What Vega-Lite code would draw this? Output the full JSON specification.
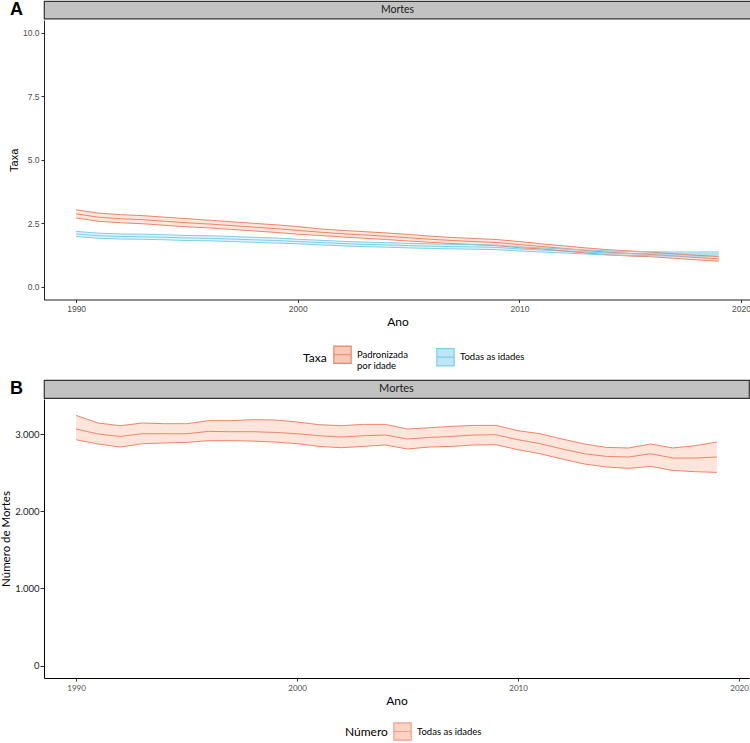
{
  "$schema": "https://vega.github.io/schema/vega-lite/v6.json",
  "padding": {"left": 0, "top": 0, "right": 1, "bottom": 0},
  "background": "white",
  "spacing": 8,
  "resolve": {"scale": {"fill": "independent", "stroke": "independent"}, "legend": {"fill": "independent", "stroke": "independent"}},
  "config": {
    "view": {"stroke": null},
    "axis": {"grid": false, "domainColor": "#222222", "domainWidth": 1, "tickColor": "#333333", "tickSize": 3, "labelColor": "#4D4D4D", "titleColor": "#000000", "titleFontWeight": "normal"}
  },
  "datasets": {
    "strip": [{"label": "Mortes"}],
    "taxa": [
      {"ano": 1990, "serie": "Padronizada por idade", "val": 2.87, "lo": 2.71, "hi": 3.03},
      {"ano": 1991, "serie": "Padronizada por idade", "val": 2.74, "lo": 2.58, "hi": 2.90},
      {"ano": 1992, "serie": "Padronizada por idade", "val": 2.68, "lo": 2.52, "hi": 2.84},
      {"ano": 1993, "serie": "Padronizada por idade", "val": 2.64, "lo": 2.48, "hi": 2.80},
      {"ano": 1994, "serie": "Padronizada por idade", "val": 2.58, "lo": 2.42, "hi": 2.74},
      {"ano": 1995, "serie": "Padronizada por idade", "val": 2.52, "lo": 2.36, "hi": 2.68},
      {"ano": 1996, "serie": "Padronizada por idade", "val": 2.47, "lo": 2.32, "hi": 2.62},
      {"ano": 1997, "serie": "Padronizada por idade", "val": 2.41, "lo": 2.26, "hi": 2.56},
      {"ano": 1998, "serie": "Padronizada por idade", "val": 2.35, "lo": 2.20, "hi": 2.50},
      {"ano": 1999, "serie": "Padronizada por idade", "val": 2.29, "lo": 2.14, "hi": 2.44},
      {"ano": 2000, "serie": "Padronizada por idade", "val": 2.22, "lo": 2.07, "hi": 2.37},
      {"ano": 2001, "serie": "Padronizada por idade", "val": 2.15, "lo": 2.02, "hi": 2.28},
      {"ano": 2002, "serie": "Padronizada por idade", "val": 2.09, "lo": 1.96, "hi": 2.22},
      {"ano": 2003, "serie": "Padronizada por idade", "val": 2.04, "lo": 1.91, "hi": 2.17},
      {"ano": 2004, "serie": "Padronizada por idade", "val": 1.99, "lo": 1.86, "hi": 2.12},
      {"ano": 2005, "serie": "Padronizada por idade", "val": 1.93, "lo": 1.80, "hi": 2.06},
      {"ano": 2006, "serie": "Padronizada por idade", "val": 1.87, "lo": 1.75, "hi": 1.99},
      {"ano": 2007, "serie": "Padronizada por idade", "val": 1.82, "lo": 1.70, "hi": 1.94},
      {"ano": 2008, "serie": "Padronizada por idade", "val": 1.78, "lo": 1.66, "hi": 1.90},
      {"ano": 2009, "serie": "Padronizada por idade", "val": 1.74, "lo": 1.62, "hi": 1.86},
      {"ano": 2010, "serie": "Padronizada por idade", "val": 1.66, "lo": 1.54, "hi": 1.78},
      {"ano": 2011, "serie": "Padronizada por idade", "val": 1.59, "lo": 1.49, "hi": 1.69},
      {"ano": 2012, "serie": "Padronizada por idade", "val": 1.51, "lo": 1.41, "hi": 1.61},
      {"ano": 2013, "serie": "Padronizada por idade", "val": 1.43, "lo": 1.33, "hi": 1.53},
      {"ano": 2014, "serie": "Padronizada por idade", "val": 1.36, "lo": 1.26, "hi": 1.46},
      {"ano": 2015, "serie": "Padronizada por idade", "val": 1.31, "lo": 1.21, "hi": 1.41},
      {"ano": 2016, "serie": "Padronizada por idade", "val": 1.27, "lo": 1.18, "hi": 1.36},
      {"ano": 2017, "serie": "Padronizada por idade", "val": 1.21, "lo": 1.12, "hi": 1.30},
      {"ano": 2018, "serie": "Padronizada por idade", "val": 1.15, "lo": 1.06, "hi": 1.24},
      {"ano": 2019, "serie": "Padronizada por idade", "val": 1.10, "lo": 1.01, "hi": 1.19},
      {"ano": 1990, "serie": "Todas as idades", "val": 2.08, "lo": 1.98, "hi": 2.18},
      {"ano": 1991, "serie": "Todas as idades", "val": 2.01, "lo": 1.91, "hi": 2.11},
      {"ano": 1992, "serie": "Todas as idades", "val": 1.98, "lo": 1.88, "hi": 2.08},
      {"ano": 1993, "serie": "Todas as idades", "val": 1.97, "lo": 1.87, "hi": 2.07},
      {"ano": 1994, "serie": "Todas as idades", "val": 1.95, "lo": 1.85, "hi": 2.05},
      {"ano": 1995, "serie": "Todas as idades", "val": 1.92, "lo": 1.82, "hi": 2.02},
      {"ano": 1996, "serie": "Todas as idades", "val": 1.91, "lo": 1.81, "hi": 2.01},
      {"ano": 1997, "serie": "Todas as idades", "val": 1.88, "lo": 1.78, "hi": 1.98},
      {"ano": 1998, "serie": "Todas as idades", "val": 1.85, "lo": 1.75, "hi": 1.95},
      {"ano": 1999, "serie": "Todas as idades", "val": 1.82, "lo": 1.72, "hi": 1.92},
      {"ano": 2000, "serie": "Todas as idades", "val": 1.78, "lo": 1.69, "hi": 1.87},
      {"ano": 2001, "serie": "Todas as idades", "val": 1.74, "lo": 1.65, "hi": 1.83},
      {"ano": 2002, "serie": "Todas as idades", "val": 1.70, "lo": 1.61, "hi": 1.79},
      {"ano": 2003, "serie": "Todas as idades", "val": 1.67, "lo": 1.58, "hi": 1.76},
      {"ano": 2004, "serie": "Todas as idades", "val": 1.65, "lo": 1.56, "hi": 1.74},
      {"ano": 2005, "serie": "Todas as idades", "val": 1.62, "lo": 1.53, "hi": 1.71},
      {"ano": 2006, "serie": "Todas as idades", "val": 1.60, "lo": 1.51, "hi": 1.69},
      {"ano": 2007, "serie": "Todas as idades", "val": 1.58, "lo": 1.49, "hi": 1.67},
      {"ano": 2008, "serie": "Todas as idades", "val": 1.57, "lo": 1.48, "hi": 1.66},
      {"ano": 2009, "serie": "Todas as idades", "val": 1.55, "lo": 1.46, "hi": 1.64},
      {"ano": 2010, "serie": "Todas as idades", "val": 1.49, "lo": 1.41, "hi": 1.57},
      {"ano": 2011, "serie": "Todas as idades", "val": 1.45, "lo": 1.37, "hi": 1.53},
      {"ano": 2012, "serie": "Todas as idades", "val": 1.41, "lo": 1.33, "hi": 1.49},
      {"ano": 2013, "serie": "Todas as idades", "val": 1.37, "lo": 1.29, "hi": 1.45},
      {"ano": 2014, "serie": "Todas as idades", "val": 1.33, "lo": 1.25, "hi": 1.41},
      {"ano": 2015, "serie": "Todas as idades", "val": 1.31, "lo": 1.23, "hi": 1.39},
      {"ano": 2016, "serie": "Todas as idades", "val": 1.30, "lo": 1.22, "hi": 1.38},
      {"ano": 2017, "serie": "Todas as idades", "val": 1.29, "lo": 1.21, "hi": 1.37},
      {"ano": 2018, "serie": "Todas as idades", "val": 1.29, "lo": 1.21, "hi": 1.37},
      {"ano": 2019, "serie": "Todas as idades", "val": 1.29, "lo": 1.21, "hi": 1.37}
    ],
    "numero": [
      {"ano": 1990, "serie": "Todas as idades", "val": 3066, "lo": 2927, "hi": 3243},
      {"ano": 1991, "serie": "Todas as idades", "val": 3001, "lo": 2872, "hi": 3144},
      {"ano": 1992, "serie": "Todas as idades", "val": 2970, "lo": 2833, "hi": 3109},
      {"ano": 1993, "serie": "Todas as idades", "val": 3005, "lo": 2876, "hi": 3144},
      {"ano": 1994, "serie": "Todas as idades", "val": 3005, "lo": 2885, "hi": 3135},
      {"ano": 1995, "serie": "Todas as idades", "val": 3005, "lo": 2893, "hi": 3135},
      {"ano": 1996, "serie": "Todas as idades", "val": 3035, "lo": 2915, "hi": 3174},
      {"ano": 1997, "serie": "Todas as idades", "val": 3031, "lo": 2915, "hi": 3174},
      {"ano": 1998, "serie": "Todas as idades", "val": 3031, "lo": 2910, "hi": 3187},
      {"ano": 1999, "serie": "Todas as idades", "val": 3022, "lo": 2897, "hi": 3183},
      {"ano": 2000, "serie": "Todas as idades", "val": 3005, "lo": 2876, "hi": 3157},
      {"ano": 2001, "serie": "Todas as idades", "val": 2979, "lo": 2841, "hi": 3122},
      {"ano": 2002, "serie": "Todas as idades", "val": 2962, "lo": 2824, "hi": 3109},
      {"ano": 2003, "serie": "Todas as idades", "val": 2979, "lo": 2841, "hi": 3126},
      {"ano": 2004, "serie": "Todas as idades", "val": 2988, "lo": 2859, "hi": 3126},
      {"ano": 2005, "serie": "Todas as idades", "val": 2936, "lo": 2807, "hi": 3066},
      {"ano": 2006, "serie": "Todas as idades", "val": 2957, "lo": 2833, "hi": 3083},
      {"ano": 2007, "serie": "Todas as idades", "val": 2970, "lo": 2841, "hi": 3100},
      {"ano": 2008, "serie": "Todas as idades", "val": 2988, "lo": 2859, "hi": 3113},
      {"ano": 2009, "serie": "Todas as idades", "val": 2992, "lo": 2863, "hi": 3113},
      {"ano": 2010, "serie": "Todas as idades", "val": 2927, "lo": 2798, "hi": 3044},
      {"ano": 2011, "serie": "Todas as idades", "val": 2876, "lo": 2746, "hi": 3005},
      {"ano": 2012, "serie": "Todas as idades", "val": 2807, "lo": 2677, "hi": 2936},
      {"ano": 2013, "serie": "Todas as idades", "val": 2746, "lo": 2613, "hi": 2872},
      {"ano": 2014, "serie": "Todas as idades", "val": 2711, "lo": 2574, "hi": 2828},
      {"ano": 2015, "serie": "Todas as idades", "val": 2703, "lo": 2556, "hi": 2820},
      {"ano": 2016, "serie": "Todas as idades", "val": 2746, "lo": 2582, "hi": 2872},
      {"ano": 2017, "serie": "Todas as idades", "val": 2690, "lo": 2530, "hi": 2820},
      {"ano": 2018, "serie": "Todas as idades", "val": 2690, "lo": 2513, "hi": 2850},
      {"ano": 2019, "serie": "Todas as idades", "val": 2703, "lo": 2504, "hi": 2897}
    ]
  },
  "vconcat": [
    {
      "spacing": 0,
      "vconcat": [
        {
          "width": 707,
          "height": 17.5,
          "data": {"name": "strip"},
          "view": {"fill": "#C2C2C2", "stroke": "#333333", "strokeWidth": 1.2},
          "title": {"text": "A", "orient": "left", "angle": 0, "anchor": "middle", "align": "right", "baseline": "middle", "offset": 8, "font": "Liberation Sans", "fontSize": 18, "fontWeight": "bold", "color": "#000000"},
          "mark": {"type": "text", "font": "Lato", "fontSize": 10.5, "color": "#1A1A1A", "baseline": "middle", "align": "center"},
          "encoding": {"text": {"field": "label", "type": "nominal"}}
        },
        {
          "width": 707,
          "height": 279.5,
          "data": {"name": "taxa"},
          "encoding": {
            "x": {"field": "ano", "type": "quantitative", "scale": {"domain": [1988.55, 2020.45], "nice": false, "zero": false},
              "axis": {"values": [1990, 2000, 2010, 2020], "format": "d", "title": "Ano", "labelFont": "Liberation Sans", "labelFontSize": 8.5, "labelPadding": 2, "titleFont": "Lato", "titleFontSize": 12, "titlePadding": 3}}
          },
          "layer": [
            {
              "mark": {"type": "area", "fillOpacity": 0.45},
              "encoding": {
                "y": {"field": "lo", "type": "quantitative", "scale": {"domain": [-0.5, 10.5], "nice": false, "zero": false},
                  "axis": {"values": [0, 2.5, 5, 7.5, 10], "format": ".1f", "title": "Taxa", "labelFont": "Liberation Sans", "labelFontSize": 8.5, "labelPadding": 2, "titleFont": "Liberation Sans", "titleFontSize": 11, "titlePadding": 3}},
                "y2": {"field": "hi"},
                "fill": {"field": "serie", "type": "nominal",
                  "scale": {"domain": ["Padronizada por idade", "Todas as idades"], "range": ["#F9C9B8", "#BFE6F5"]},
                  "legend": {"title": "Taxa", "orient": "none", "legendX": 259, "legendY": 344, "direction": "horizontal", "titleOrient": "left",
                    "titleFont": "Lato", "titleFontSize": 12, "titleFontWeight": "normal", "titleColor": "#000000", "titlePadding": 6,
                    "labelFont": "Lato", "labelFontSize": 9.5, "labelColor": "#000000", "labelOffset": 5, "columnPadding": 26,
                    "symbolType": "M-1,-1H1V1H-1Z M-1,0H1", "symbolSize": 300,
                    "labelExpr": "datum.label == 'Padronizada por idade' ? ['Padronizada', 'por idade'] : datum.label",
                    "encode": {"symbols": {"update": {
                      "fill": {"signal": "datum.value == 'Padronizada por idade' ? '#FCE0D6' : '#DAF0F9'"},
                      "stroke": {"signal": "datum.value == 'Padronizada por idade' ? '#F2A088' : '#8ED2EC'"},
                      "strokeWidth": {"value": 1.2}, "opacity": {"value": 1}}}}}}
              }
            },
            {
              "mark": {"type": "line", "strokeWidth": 1},
              "encoding": {"y": {"field": "val", "type": "quantitative"},
                "stroke": {"field": "serie", "type": "nominal", "scale": {"domain": ["Padronizada por idade", "Todas as idades"], "range": ["#EE8466", "#7ECDEA"]}, "legend": null}}
            },
            {
              "mark": {"type": "line", "strokeWidth": 1},
              "encoding": {"y": {"field": "lo", "type": "quantitative"},
                "stroke": {"field": "serie", "type": "nominal", "legend": null}}
            },
            {
              "mark": {"type": "line", "strokeWidth": 1},
              "encoding": {"y": {"field": "hi", "type": "quantitative"},
                "stroke": {"field": "serie", "type": "nominal", "legend": null}}
            }
          ]
        }
      ]
    },
    {
      "spacing": 0,
      "vconcat": [
        {
          "width": 705,
          "height": 18,
          "data": {"name": "strip"},
          "view": {"fill": "#C2C2C2", "stroke": "#333333", "strokeWidth": 1.2},
          "title": {"text": "B", "orient": "left", "angle": 0, "anchor": "middle", "align": "right", "baseline": "middle", "offset": 8, "font": "Liberation Sans", "fontSize": 18, "fontWeight": "bold", "color": "#000000"},
          "mark": {"type": "text", "font": "Lato", "fontSize": 11, "color": "#1A1A1A", "baseline": "middle", "align": "center"},
          "encoding": {"text": {"field": "label", "type": "nominal"}}
        },
        {
          "width": 705,
          "height": 279,
          "data": {"name": "numero"},
          "encoding": {
            "x": {"field": "ano", "type": "quantitative", "scale": {"domain": [1988.55, 2020.45], "nice": false, "zero": false},
              "axis": {"values": [1990, 2000, 2010, 2020], "format": "d", "title": "Ano", "domainColor": "#000000", "labelFont": "Lato", "labelFontSize": 8, "labelPadding": 3, "titleFont": "Lato", "titleFontSize": 12, "titlePadding": 3}}
          },
          "layer": [
            {
              "mark": {"type": "area", "fillOpacity": 0.6},
              "encoding": {
                "y": {"field": "lo", "type": "quantitative", "scale": {"domain": [-160, 3455], "nice": false, "zero": false},
                  "axis": {"values": [0, 1000, 2000, 3000], "labelExpr": "replace(format(datum.value, ',d'), ',', '.')", "title": "Número de Mortes", "domainColor": "#000000", "tickSize": 4, "labelColor": "#1A1A1A", "labelFont": "Lato", "labelFontSize": 9.5, "labelPadding": 1, "titleFont": "Lato", "titleFontSize": 11.5, "titlePadding": 3}},
                "y2": {"field": "hi"},
                "fill": {"field": "serie", "type": "nominal",
                  "scale": {"domain": ["Todas as idades"], "range": ["#FCD3C4"]},
                  "legend": {"title": "Número", "orient": "none", "legendX": 301, "legendY": 342, "direction": "horizontal", "titleOrient": "left",
                    "titleFont": "Lato", "titleFontSize": 12, "titleFontWeight": "normal", "titleColor": "#000000", "titlePadding": 5,
                    "labelFont": "Lato", "labelFontSize": 9.5, "labelColor": "#000000", "labelOffset": 5,
                    "symbolType": "M-1,-1H1V1H-1Z M-1,0H1", "symbolSize": 300,
                    "encode": {"symbols": {"update": {
                      "fill": {"value": "#FCDDD1"},
                      "stroke": {"value": "#F2A088"},
                      "strokeWidth": {"value": 1.2}, "opacity": {"value": 1}}}}}}
              }
            },
            {
              "mark": {"type": "line", "strokeWidth": 1, "color": "#EE8466"},
              "encoding": {"y": {"field": "val", "type": "quantitative"}}
            },
            {
              "mark": {"type": "line", "strokeWidth": 1, "color": "#EE8466"},
              "encoding": {"y": {"field": "lo", "type": "quantitative"}}
            },
            {
              "mark": {"type": "line", "strokeWidth": 1, "color": "#EE8466"},
              "encoding": {"y": {"field": "hi", "type": "quantitative"}}
            }
          ]
        }
      ]
    }
  ]
}
